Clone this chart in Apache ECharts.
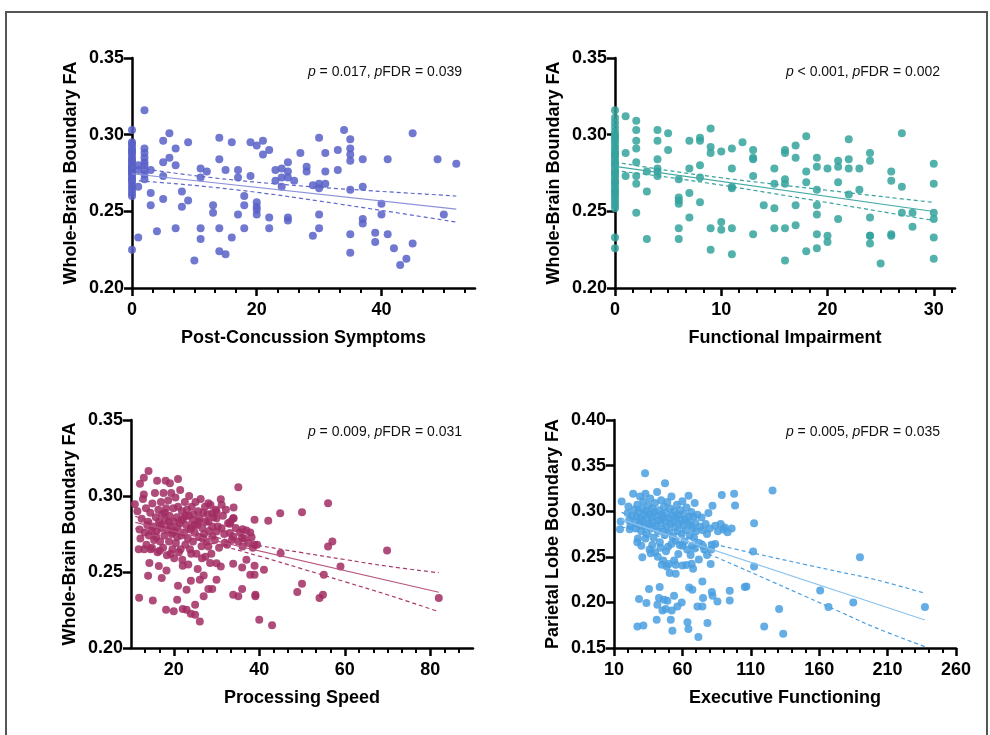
<!DOCTYPE html>
<html>
<head>
<meta charset="utf-8">
<title>Boundary FA vs clinical scores</title>
<script src="https://cdn.jsdelivr.net/npm/echarts@6/dist/echarts.min.js"></script>
<style>
  html, body { margin: 0; padding: 0; background: #fff; }
  #chart { width: 990px; height: 735px; }
</style>
</head>
<body>
<div id="chart"></div>
<script>
// ---- values ----

// post-concussion symptoms vs whole-brain boundary FA
var symptomsPts = [
  [0,0.303],[0,0.295],[0,0.294],[0,0.292],[0,0.290],[0,0.288],[0,0.286],[0,0.284],[0,0.282],[0,0.280],
  [0,0.278],[0,0.276],[0,0.274],[0,0.272],[0,0.270],[0,0.268],[0,0.266],[0,0.264],[0,0.262],[0,0.260],
  [0,0.225],[0,0.289],[0,0.283],[0,0.277],[0,0.271],[0,0.279],[0,0.275],
  [1,0.280],[1,0.277],[1,0.266],[1,0.233],
  [2,0.316],[2,0.291],[2,0.288],[2,0.285],[2,0.282],[2,0.280],[2,0.277],[2,0.274],[2,0.271],
  [3,0.277],[3,0.262],[3,0.254],[4,0.237],
  [5,0.296],[5,0.282],[5,0.273],[5,0.258],[6,0.301],[6,0.285],
  [7,0.291],[7,0.280],[7,0.239],[8,0.263],[8,0.253],[9,0.295],[9,0.257],[10,0.218],
  [11,0.278],[11,0.272],[11,0.239],[11,0.232],[12,0.276],[13,0.254],[13,0.249],
  [14,0.298],[14,0.284],[14,0.239],[14,0.224],[15,0.277],[15,0.222],[16,0.295],[16,0.233],
  [17,0.277],[17,0.272],[17,0.248],[18,0.260],[18,0.254],[18,0.239],[19,0.295],[19,0.273],
  [20,0.293],[20,0.256],[20,0.253],[20,0.251],[20,0.248],[21,0.296],[21,0.287],
  [22,0.290],[22,0.246],[22,0.239],[23,0.277],[23,0.270],[24,0.278],[24,0.272],[24,0.266],
  [25,0.282],[25,0.276],[25,0.272],[25,0.246],[25,0.244],[26,0.270],[27,0.288],
  [28,0.279],[28,0.276],[29,0.234],[29,0.267],
  [30,0.298],[30,0.268],[30,0.265],[30,0.248],[30,0.239],[31,0.288],[31,0.276],[31,0.268],
  [33,0.290],[33,0.277],[34,0.303],
  [35,0.297],[35,0.291],[35,0.287],[35,0.283],[35,0.264],[35,0.235],[35,0.223],
  [37,0.284],[37,0.266],[37,0.245],[37,0.242],[39,0.236],[39,0.230],[40,0.255],[40,0.248],
  [41,0.284],[41,0.235],[42,0.226],[43,0.215],[44,0.219],[45,0.301],[45,0.229],
  [49,0.284],[50,0.248],[52,0.281]
];
var symptomsFit   = [[0,0.2745],[52,0.2515]];
var symptomsUpper = [[0,0.2788],[10,0.2733],[20,0.2690],[30,0.2657],[40,0.2630],[52,0.2600]];
var symptomsLower = [[0,0.2702],[10,0.2669],[20,0.2624],[30,0.2567],[40,0.2506],[52,0.2430]];

// functional impairment vs whole-brain boundary FA
var functionalPts = [
  [0,0.316],[0,0.311],[0,0.308],[0,0.305],[0,0.302],[0,0.300],[0,0.299],[0,0.298],[0,0.296],[0,0.294],
  [0,0.292],[0,0.290],[0,0.288],[0,0.287],[0,0.286],[0,0.284],[0,0.282],[0,0.281],[0,0.280],[0,0.278],
  [0,0.276],[0,0.275],[0,0.274],[0,0.272],[0,0.270],[0,0.269],[0,0.268],[0,0.266],[0,0.264],[0,0.263],
  [0,0.262],[0,0.260],[0,0.258],[0,0.256],[0,0.254],[0,0.252],[0,0.233],[0,0.226],
  [1,0.312],[1,0.288],[1,0.273],
  [2,0.309],[2,0.303],[2,0.296],[2,0.291],[2,0.282],[2,0.273],[2,0.268],[2,0.249],
  [3,0.276],[3,0.263],[3,0.232],
  [4,0.303],[4,0.296],[4,0.284],[4,0.278],[4,0.276],[4,0.273],[5,0.301],[5,0.290],
  [6,0.271],[6,0.259],[6,0.257],[6,0.255],[6,0.239],[6,0.232],
  [7,0.296],[7,0.278],[7,0.262],[7,0.246],
  [8,0.298],[8,0.296],[8,0.280],[8,0.272],[8,0.256],
  [9,0.304],[9,0.292],[9,0.288],[9,0.239],[9,0.225],
  [10,0.289],[10,0.243],[10,0.238],
  [11,0.291],[11,0.278],[11,0.266],[11,0.265],[11,0.239],[11,0.222],[12,0.295],
  [13,0.290],[13,0.285],[13,0.284],[13,0.273],[13,0.235],[14,0.254],
  [15,0.278],[15,0.268],[15,0.252],[15,0.239],
  [16,0.290],[16,0.288],[16,0.271],[16,0.268],[16,0.239],[16,0.218],
  [17,0.293],[17,0.285],[17,0.254],[17,0.241],
  [18,0.299],[18,0.276],[18,0.269],[18,0.224],
  [19,0.285],[19,0.279],[19,0.264],[19,0.254],[19,0.248],[19,0.235],[19,0.226],
  [20,0.278],[20,0.234],[20,0.230],
  [21,0.283],[21,0.279],[21,0.269],[21,0.245],
  [22,0.297],[22,0.284],[22,0.278],[22,0.261],[23,0.278],[23,0.264],
  [24,0.288],[24,0.283],[24,0.246],[24,0.234],[24,0.234],[24,0.229],[25,0.216],
  [26,0.276],[26,0.270],[26,0.235],[26,0.234],[27,0.301],[27,0.266],[27,0.249],
  [28,0.249],[28,0.240],
  [30,0.281],[30,0.268],[30,0.249],[30,0.245],[30,0.233],[30,0.219]
];
var functionalFit   = [[0,0.2793],[30,0.2499]];
var functionalUpper = [[0,0.2821],[5,0.2766],[10,0.2719],[15,0.2677],[20,0.2637],[25,0.2597],[30,0.2558]];
var functionalLower = [[0,0.2766],[5,0.2722],[10,0.2671],[15,0.2615],[20,0.2557],[25,0.2499],[30,0.2440]];

// processing speed vs whole-brain boundary FA
var speedPts = [
  [10.9,0.2946],[12.1,0.308],[11.9,0.233],[13.0,0.312],[14.1,0.3165],[14.0,0.2475],[15.1,0.2313],
  [16.1,0.310],[17.2,0.246],[18.1,0.310],[18.2,0.2252],[19.1,0.3084],[20.0,0.2241],[21.0,0.3112],
  [21.0,0.241],[20.8,0.2318],[22.1,0.2256],[22.1,0.2541],[23.0,0.2383],[23.0,0.2252],[24.0,0.2442],
  [24.0,0.2226],[25.0,0.2285],[25.0,0.2219],[26.1,0.2175],[26.1,0.2449],[27.0,0.234],[27.0,0.2477],
  [28.1,0.2388],[29.0,0.2388],[30.0,0.2449],[30.0,0.2558],[31.0,0.2537],[31.0,0.2979],[33.9,0.235],
  [33.9,0.2554],[35.1,0.3058],[35.1,0.234],[36.0,0.2388],[36.0,0.253],[37.0,0.258],[37.9,0.2482],
  [38.9,0.2843],[38.9,0.2541],[38.9,0.2482],[39.1,0.235],[39.1,0.234],[40.0,0.2186],[41.1,0.2515],
  [42.1,0.2837],[43.0,0.2149],[44.9,0.2887],[45.0,0.2624],[48.9,0.2368],[50.0,0.2423],[50.0,0.2893],
  [54.1,0.2329],[54.9,0.235],[55.1,0.2482],[56.1,0.2953],[56.1,0.2668],[57.1,0.2701],[59.0,0.2537],
  [69.9,0.2642],[82.0,0.2329],
  [32.7,0.2821],[33.1,0.2817],[34.0,0.2854],[34.0,0.2924],[33.9,0.2734],[35.1,0.2701],[36.1,0.2782],
  [37.0,0.2773],[37.9,0.276],[38.2,0.2729],[38.9,0.2679],[36.0,0.2723],[36.1,0.2668],[33.1,0.2756],
  [31.9,0.269],[33.9,0.2854],[31.2,0.2788],[31.2,0.2942],[30.0,0.2854],[30.0,0.2898],[30.0,0.2767],
  [29.0,0.2799],[29.0,0.2887],[29.0,0.2734],[28.1,0.2953],[28.1,0.2832],[28.1,0.2668],
  [12.5,0.285],[12.8,0.298],[13.0,0.301],[13.2,0.276],[13.5,0.292],[13.6,0.268],[14.0,0.283],[14.2,0.274],
  [14.5,0.289],[14.6,0.265],[15.0,0.295],[15.2,0.280],[15.4,0.271],[15.6,0.302],[15.8,0.286],[16.0,0.277],
  [16.2,0.263],[16.4,0.291],[16.6,0.283],[16.8,0.270],[17.0,0.296],[17.1,0.279],[17.3,0.288],[17.5,0.266],
  [17.6,0.302],[17.8,0.274],[18.0,0.284],[18.2,0.292],[18.4,0.261],[18.5,0.278],[18.7,0.297],[18.9,0.270],
  [19.0,0.287],[19.2,0.280],[19.4,0.302],[19.5,0.275],[19.7,0.265],[19.9,0.292],[20.0,0.283],[20.2,0.277],
  [20.4,0.299],[20.5,0.269],[20.7,0.286],[20.9,0.279],[21.0,0.293],[21.2,0.263],[21.4,0.282],[21.5,0.304],
  [21.7,0.274],[21.9,0.290],[22.0,0.258],[22.2,0.285],[22.4,0.276],[22.6,0.296],[22.7,0.268],[22.9,0.281],
  [23.1,0.291],[23.3,0.272],[23.5,0.287],[23.6,0.300],[23.8,0.265],[24.0,0.279],[24.2,0.293],[24.4,0.284],
  [24.5,0.270],[24.7,0.288],[24.9,0.276],[25.1,0.296],[25.3,0.262],[25.5,0.281],[25.7,0.290],[25.9,0.273],
  [26.1,0.285],[26.3,0.298],[26.5,0.267],[26.7,0.279],[26.9,0.289],[27.1,0.275],[27.3,0.293],[27.5,0.283],
  [27.7,0.270],[27.9,0.288],[28.3,0.277],[28.6,0.294],[28.8,0.262],[29.3,0.286],[29.6,0.271],[29.8,0.291],
  [30.3,0.280],[30.6,0.266],[31.5,0.287],[31.8,0.275],[32.2,0.291],[32.5,0.268],[33.3,0.283],[33.6,0.271],
  [34.5,0.279],[35.5,0.276],[36.5,0.272],[37.5,0.269],[38.5,0.266],[39.5,0.268],
  [13.8,0.281],[15.9,0.273],[17.9,0.289],[19.8,0.276],[21.8,0.284],[23.9,0.278],[25.8,0.283],
  [14.8,0.277],[16.9,0.281],[18.8,0.283],[20.8,0.273],[22.8,0.287],[24.8,0.281],[26.8,0.272],
  [12.2,0.272],[13.1,0.265],[14.3,0.256],[16.5,0.254],[18.3,0.251],[20.1,0.259],[23.4,0.255],
  [25.6,0.252],[27.4,0.260],[28.5,0.256],[14.9,0.266],[16.7,0.264],[19.3,0.262],[21.6,0.265],
  [24.1,0.262],[26.6,0.259],[11.5,0.290],[12.0,0.278],[11.8,0.265]
];
var speedFit   = [[11,0.2827],[82,0.2367]];
var speedUpper = [[11,0.2866],[20,0.2795],[30,0.2727],[40,0.2674],[50,0.2627],[60,0.2582],[70,0.2538],[82,0.2495]];
var speedLower = [[11,0.2788],[20,0.2743],[30,0.2681],[40,0.2604],[50,0.2521],[60,0.2436],[70,0.2350],[82,0.2239]];

// executive functioning vs parietal lobe boundary FA
var execPts = [
  [15.6,0.3106],[20.5,0.3051],[21.5,0.2803],[27.1,0.1737],[28.3,0.2036],[30.7,0.2496],[31.5,0.1748],
  [32.7,0.3416],[33.7,0.1993],[35.6,0.2146],[36.8,0.254],[41.2,0.181],[41.7,0.1974],[42.9,0.2047],
  [43.4,0.2168],[44.9,0.2412],[45.4,0.1912],[46.6,0.2029],[47.3,0.3307],[47.8,0.1927],[48.5,0.2394],
  [49.0,0.2018],[50.7,0.2321],[51.5,0.181],[52.2,0.1912],[52.7,0.169],[53.9,0.2073],[55.1,0.2412],
  [55.1,0.2314],[56.3,0.1956],[59.5,0.2],[60.0,0.2405],[63.7,0.1781],[64.4,0.1708],[64.9,0.2164],
  [66.8,0.2423],[67.3,0.2139],[67.8,0.2369],[71.7,0.162],[71.0,0.1956],[74.6,0.1956],[74.6,0.223],
  [75.1,0.2047],[78.3,0.1774],[80.7,0.242],[81.5,0.2631],[81.5,0.2113],[82.0,0.2073],[85.6,0.2011],
  [88.8,0.3179],[94.6,0.2128],[94.6,0.2022],[97.8,0.319],[98.5,0.3062],[105.6,0.2168],[106.8,0.2175],
  [112.4,0.2869],[111.7,0.2558],[112.4,0.2394],[119.8,0.1737],[125.9,0.3226],[130.7,0.1927],
  [133.7,0.1657],[160.7,0.2131],[166.8,0.1949],[184.9,0.2],[189.8,0.2496],[237.3,0.1949],
  [14.4,0.2803],[14.9,0.2887],
  [20,0.298],[21,0.290],[22,0.284],[23,0.295],[24,0.319],[25,0.302],[25.5,0.288],[26,0.281],
  [26.5,0.294],[27,0.307],[27.5,0.270],[28,0.299],[28.5,0.285],[29,0.316],[29.5,0.292],[30,0.278],
  [30.5,0.303],[31,0.289],[31.5,0.311],[32,0.296],[32.5,0.283],[33,0.319],[33.5,0.300],[34,0.275],
  [34.5,0.292],[35,0.306],[35.5,0.286],[36,0.297],[36.5,0.314],[37,0.281],[37.5,0.293],[38,0.303],
  [38.5,0.288],[39,0.271],[39.5,0.299],[40,0.309],[40.5,0.284],[41,0.295],[41.5,0.321],[42,0.278],
  [42.5,0.290],[43,0.301],[43.5,0.266],[44,0.287],[44.5,0.312],[45,0.296],[45.5,0.280],[46,0.293],
  [46.5,0.305],[47,0.274],[47.5,0.289],[48,0.298],[48.5,0.283],[49,0.310],[49.5,0.261],[50,0.292],
  [50.5,0.277],[51,0.303],[51.5,0.286],[52,0.316],[52.5,0.295],[53,0.272],[53.5,0.289],[54,0.300],
  [54.5,0.282],[55,0.268],[55.5,0.293],[56,0.307],[56.5,0.278],[57,0.296],[57.5,0.286],[58,0.263],
  [58.5,0.301],[59,0.290],[59.5,0.275],[60,0.311],[60.5,0.284],[61,0.297],[61.5,0.267],[62,0.291],
  [62.5,0.279],[63,0.304],[63.5,0.258],[64,0.288],[64.5,0.317],[65,0.294],[65.5,0.273],[66,0.285],
  [66.5,0.299],[67,0.262],[67.5,0.281],[68,0.294],[68.5,0.271],[69,0.309],[69.5,0.287],[70,0.278],
  [71,0.296],[72,0.265],[73,0.283],[74,0.293],[75,0.279],[76,0.258],[77,0.286],[78,0.275],[79,0.298],
  [80,0.281],[82,0.306],[84,0.284],[86,0.278],[88,0.286],[90,0.280],[91,0.282],[93,0.277],[96,0.281],
  [27,0.266],[30,0.262],[33,0.270],[36,0.258],[38,0.263],[40,0.255],[42,0.250],[44,0.260],[46,0.246],
  [48,0.256],[50,0.242],[52,0.264],[54,0.246],[57,0.253],[60,0.262],[63,0.241],[66,0.252],[69,0.259],
  [72,0.247],[75,0.262],[78,0.252],[81,0.258],[84,0.264]
];
var execFit   = [[15.6,0.2907],[237.3,0.1807]];
var execUpper = [[15.6,0.2987],[30,0.2894],[50,0.2781],[75,0.2670],[100,0.2580],[125,0.2497],[150,0.2415],[175,0.2334],[200,0.2254],[237.3,0.2100]];
var execLower = [[15.6,0.2827],[30,0.2778],[50,0.2691],[75,0.2554],[100,0.2396],[125,0.2231],[150,0.2065],[175,0.1898],[200,0.1730],[237.3,0.1514]];

// tick labels
var symptomsTicks   = [0, 20, 40];
var functionalTicks = [0, 10, 20, 30];
var speedTicks      = [20, 40, 60, 80];
var execTicks       = [10, 60, 110, 160, 210, 260];
var wholeBrainTicks = [0.20, 0.25, 0.30, 0.35];
var parietalTicks   = [0.15, 0.20, 0.25, 0.30, 0.35, 0.40];

var statTexts = [
  '{i|p} = 0.017, {i|p}FDR = 0.039',
  '{i|p} < 0.001, {i|p}FDR = 0.002',
  '{i|p} = 0.009, {i|p}FDR = 0.031',
  '{i|p} = 0.005, {i|p}FDR = 0.035'
];

// ---- layout ----
var FONT = '"Liberation Sans", Arial, Helvetica, sans-serif';

var panels = [
  { pts: symptomsPts, fit: symptomsFit, up: symptomsUpper, lo: symptomsLower,
    xName: 'Post-Concussion Symptoms', yName: 'Whole-Brain Boundary FA',
    xMin: 0, xMax: 55, xTicks: symptomsTicks, minorStep: 20 / 6,
    yMin: 0.20, yMax: 0.35, yTicks: wholeBrainTicks,
    dot: '#5860c8', line: '#8d92db', dash: '#5f67cb',
    grid: { left: 132, top: 58, width: 343, height: 230 }, statRight: 528, statTop: 65 },
  { pts: functionalPts, fit: functionalFit, up: functionalUpper, lo: functionalLower,
    xName: 'Functional Impairment', yName: 'Whole-Brain Boundary FA',
    xMin: 0, xMax: 32, xTicks: functionalTicks, minorStep: 10 / 6,
    yMin: 0.20, yMax: 0.35, yTicks: wholeBrainTicks,
    dot: '#35a39d', line: '#45aaa5', dash: '#35a39d',
    grid: { left: 615, top: 58, width: 340, height: 230 }, statRight: 50, statTop: 65 },
  { pts: speedPts, fit: speedFit, up: speedUpper, lo: speedLower,
    xName: 'Processing Speed', yName: 'Whole-Brain Boundary FA',
    xMin: 10, xMax: 90, xTicks: speedTicks, minorStep: 20 / 6,
    yMin: 0.20, yMax: 0.35, yTicks: wholeBrainTicks,
    dot: '#a22d63', line: '#b8557f', dash: '#a83a6c',
    grid: { left: 131, top: 420, width: 342, height: 228 }, statRight: 528, statTop: 425 },
  { pts: execPts, fit: execFit, up: execUpper, lo: execLower,
    xName: 'Executive Functioning', yName: 'Parietal Lobe Boundary FA',
    xMin: 10, xMax: 260, xTicks: execTicks, minorStep: 10,
    yMin: 0.15, yMax: 0.40, yTicks: parietalTicks,
    dot: '#4a9fe0', line: '#8cc3ee', dash: '#4a9fe0',
    grid: { left: 614, top: 420, width: 342, height: 228 }, statRight: 50, statTop: 425 }
];

function minorTicks(min, max, step, majors) {
  var out = [];
  for (var k = 1; min + k * step < max - 1e-6; k++) {
    var v = Math.round((min + k * step) * 1000) / 1000;
    var isMajor = majors.some(function (m) { return Math.abs(m - v) < 0.01; });
    if (!isMajor) out.push(v);
  }
  return out;
}

var option = {
  animation: false,
  backgroundColor: '#fff',
  title: [], grid: [], xAxis: [], yAxis: [], series: [],
  graphic: [{
    type: 'rect', silent: true,
    shape: { x: 6, y: 12, width: 981, height: 760 },
    style: { fill: 'none', stroke: '#555', lineWidth: 2 }
  }]
};

panels.forEach(function (p, i) {
  option.grid.push(p.grid);

  option.title.push({
    text: statTexts[i], right: p.statRight, top: p.statTop, padding: 0,
    textStyle: {
      fontFamily: FONT, fontSize: 14, fontWeight: 'normal', color: '#111',
      rich: { i: { fontFamily: FONT, fontSize: 14, fontStyle: 'italic', color: '#111' } }
    }
  });

  // main x axis
  option.xAxis.push({
    type: 'value', gridIndex: i, position: 'bottom', min: p.xMin, max: p.xMax,
    name: p.xName, nameLocation: 'middle', nameGap: 41,
    nameTextStyle: { fontFamily: FONT, fontSize: 18, fontWeight: 'bold', color: '#000' },
    axisLine: { show: true, onZero: false, lineStyle: { color: '#000', width: 2.5 } },
    axisTick: { show: true, length: 8, customValues: p.xTicks, lineStyle: { color: '#000', width: 2.5 } },
    axisLabel: { customValues: p.xTicks, margin: 13, fontFamily: FONT, fontSize: 18, fontWeight: 'bold', color: '#000' },
    splitLine: { show: false }
  });
  // minor tick axis, same place as the main one
  option.xAxis.push({
    type: 'value', gridIndex: i, position: 'bottom', offset: 0, min: p.xMin, max: p.xMax,
    axisLine: { show: false, onZero: false },
    axisTick: { show: true, length: 5, customValues: minorTicks(p.xMin, p.xMax, p.minorStep, p.xTicks),
      lineStyle: { color: '#000', width: 2 } },
    axisLabel: { show: false },
    splitLine: { show: false }
  });

  option.yAxis.push({
    type: 'value', gridIndex: i, min: p.yMin, max: p.yMax, interval: 0.05,
    name: p.yName, nameLocation: 'middle', nameGap: 52,
    nameTextStyle: { fontFamily: FONT, fontSize: 18, fontWeight: 'bold', color: '#000' },
    axisLine: { show: true, onZero: false, lineStyle: { color: '#000', width: 2.5 } },
    axisTick: { show: true, length: 8, customValues: p.yTicks, lineStyle: { color: '#000', width: 2.5 } },
    axisLabel: { customValues: p.yTicks, margin: 8, fontFamily: FONT, fontSize: 18, fontWeight: 'bold', color: '#000',
      formatter: function (v) { return v.toFixed(2); } },
    splitLine: { show: false }
  });

  option.series.push({
    type: 'scatter', xAxisIndex: 2 * i, yAxisIndex: i, data: p.pts,
    symbolSize: 8, itemStyle: { color: p.dot, opacity: 0.85 }
  });
  option.series.push({
    type: 'line', xAxisIndex: 2 * i, yAxisIndex: i, data: p.fit, showSymbol: false,
    lineStyle: { color: p.line, width: 1.2 }, z: 3
  });
  [p.up, p.lo].forEach(function (band) {
    option.series.push({
      type: 'line', xAxisIndex: 2 * i, yAxisIndex: i, data: band, showSymbol: false, smooth: 0.4,
      lineStyle: { color: p.dash, width: 1.2, type: [4, 3] }, z: 3
    });
  });
});

var chart = echarts.init(document.getElementById('chart'));
chart.setOption(option);
</script>
</body>
</html>
